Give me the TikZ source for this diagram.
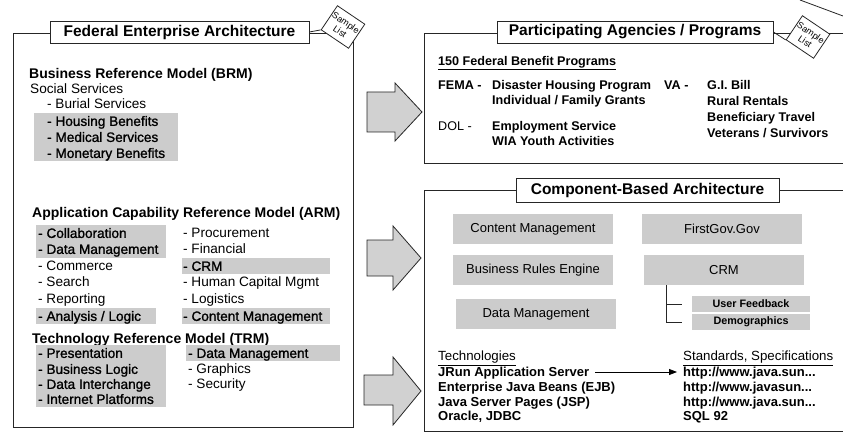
\documentclass[tikz,border=0pt]{standalone}
\usepackage{fontspec}
\setmainfont{Liberation Sans}
\newfontfamily\heavyfont{Liberation Sans}[FakeBold=1.2]
\usetikzlibrary{arrows.meta}
\tikzset{
  frame/.style={draw=black!85, line width=0.8pt},
  hdr/.style={draw=black!85, fill=white, line width=0.8pt, inner sep=0pt, minimum height=22pt, font=\bfseries\fontsize{15.5}{18}\selectfont},
  tagbox/.style={draw=black!85, fill=white, line width=0.8pt, rotate=-34, minimum width=33pt, minimum height=29pt, inner sep=0pt, align=center, font=\fontsize{9}{10.5}\selectfont},
  ttl/.style={anchor=west, inner sep=0pt, text height=10.1pt, text depth=0pt, font=\bfseries\fontsize{14}{16}\selectfont},
  itm/.style={anchor=west, inner sep=0pt, text height=9.8pt, text depth=0pt, font=\fontsize{13.6}{15}\selectfont},
  itmh/.style={itm, font=\heavyfont\fontsize{13.6}{15}\selectfont},
  prog/.style={anchor=west, inner sep=0pt, text height=9.1pt, text depth=0pt, font=\bfseries\fontsize{12.6}{14}\selectfont},
  progr/.style={prog, font=\fontsize{12.6}{14}\selectfont},
  tech/.style={anchor=west, inner sep=0pt, text height=9.5pt, text depth=0pt, font=\fontsize{13.3}{15}\selectfont},
  techb/.style={anchor=west, inner sep=0pt, text height=9.4pt, text depth=0pt, font=\bfseries\fontsize{13}{15}\selectfont},
  comp/.style={fill=black!20, inner sep=0pt, minimum width=160pt, minimum height=30pt, font=\fontsize{13}{15}\selectfont},
  subcomp/.style={fill=black!20, inner sep=0pt, minimum width=118pt, minimum height=16pt, font=\bfseries\fontsize{10.8}{12}\selectfont},
  stip/.style={fill=black!20},
  bigarrow/.style={draw=black!85, fill=black!18, line width=0.8pt, line join=miter},
}
\begin{document}
\begin{tikzpicture}[x=1pt,y=-1pt]
\useasboundingbox (0,0) rectangle (843,433);
\fill[white] (0,0) rectangle (843,433);

% ---------- left box ----------
\draw[frame] (13,33) rectangle (353,427);
\node[hdr, minimum width=259pt] (fea) at (179.5,32) {Federal Enterprise Architecture};
\node[tagbox] (tag1) at (343,27) {Sample\\List};
\draw[frame] (fea.east) -- (tag1.south west);

% BRM
\node[ttl] (brm) at (29,73) {Business Reference Model (BRM)};
\fill[stip] (34,113) rectangle (178,161);
\node[itm] (ss) at (30,89) {Social Services};
\node[itm] (b1) at (47,104) {- Burial Services};
\node[itmh] (b2) at (47,121) {- Housing Benefits};
\node[itmh] (b3) at (47,137) {- Medical Services};
\node[itmh] (b4) at (47,153) {- Monetary Benefits};

% ARM
\node[ttl] (arm) at (32,212) {Application Capability Reference Model (ARM)};
\fill[stip] (36,225) rectangle (166,258);
\fill[stip] (182,258) rectangle (330,274);
\fill[stip] (36,308) rectangle (156,324);
\fill[stip] (182,308) rectangle (330,324);
\node[itmh] (a1) at (38,233) {- Collaboration};
\node[itmh] (a2) at (38,249) {- Data Management};
\node[itm] (a3) at (38,266) {- Commerce};
\node[itm] (a4) at (38,282) {- Search};
\node[itm] (a5) at (38,299) {- Reporting};
\node[itmh] (a6) at (38,316) {- Analysis / Logic};
\node[itm] (c1) at (183,233) {- Procurement};
\node[itm] (c2) at (183,249) {- Financial};
\node[itmh] (c3) at (183,266) {- CRM};
\node[itm] (c4) at (183,282) {- Human Capital Mgmt};
\node[itm] (c5) at (183,299) {- Logistics};
\node[itmh] (c6) at (183,316) {- Content Management};

% TRM
\node[ttl] (trm) at (32,338) {Technology Reference Model (TRM)};
\fill[stip] (36,345) rectangle (166,407);
\fill[stip] (186,345) rectangle (340,361);
\node[itmh] (t1) at (38,353) {- Presentation};
\node[itmh] (t2) at (38,369) {- Business Logic};
\node[itmh] (t3) at (38,384) {- Data Interchange};
\node[itmh] (t4) at (38,399) {- Internet Platforms};
\node[itmh] (u1) at (188,353) {- Data Management};
\node[itm] (u2) at (188,369) {- Graphics};
\node[itm] (u3) at (188,384) {- Security};

% ---------- block arrows ----------
\draw[bigarrow] (367,92) -- (395,92) -- (395,83) -- (422,112) -- (395,141) -- (395,132) -- (367,132) -- cycle;
\draw[bigarrow] (367,240) -- (393,240) -- (393,226) -- (421,258) -- (393,290) -- (393,276) -- (367,276) -- cycle;
\draw[bigarrow] (364,375) -- (393,375) -- (393,357) -- (421,391) -- (393,425) -- (393,405) -- (364,405) -- cycle;

% ---------- top right box ----------
\draw[frame] (424,33) rectangle (850,163);
\node[hdr, minimum width=276pt] (pap) at (635,32) {Participating Agencies / Programs};
\node[tagbox] (tag2) at (808,37) {Sample\\List};
\draw[frame] (pap.east) -- (tag2.south west);
\draw[frame] (800,0) -- (843,16);

\node[prog] (fbp) at (438,61) {\underline{150 Federal Benefit Programs}};
\node[prog] (fema) at (438,85) {FEMA -};
\node[prog] (fema1) at (492,85) {Disaster Housing Program};
\node[prog] (fema2) at (492,100) {Individual / Family Grants};
\node[progr] (dol) at (438,126) {DOL -};
\node[prog] (dol1) at (492,126) {Employment Service};
\node[prog] (dol2) at (492,141) {WIA Youth Activities};
\node[prog] (va) at (664,85) {VA -};
\node[prog] (va1) at (707,85) {G.I. Bill};
\node[prog] (va2) at (707,101) {Rural Rentals};
\node[prog] (va3) at (707,117) {Beneficiary Travel};
\node[prog] (va4) at (707,133) {Veterans / Survivors};

% ---------- bottom right box ----------
\draw[frame] (424,190) rectangle (850,431);
\node[hdr, minimum width=263pt, minimum height=24pt] (cba) at (647.5,190) {Component-Based Architecture};

\node[comp] (cm) at (533,229) {Content Management};
\node[comp] (fg) at (722,229) {FirstGov.Gov};
\node[comp] (bre) at (533,270) {Business Rules Engine};
\node[comp] (crm) at (724,270) {CRM};
\node[comp] (dm) at (536,314) {Data Management};
\node[subcomp] (uf) at (751,304) {User Feedback};
\node[subcomp] (demo) at (751,322) {Demographics};
\draw[frame] ([xshift=23pt]crm.south west) |- ([xshift=-10pt]uf.west);
\draw[frame] ([xshift=23pt]crm.south west) |- ([xshift=-10pt]demo.west);

\node[tech] (tec) at (438,356) {\underline{Technologies}};
\node[techb] (jrun) at (438,372) {JRun Application Server};
\node[techb] (ejb) at (438,387) {Enterprise Java Beans (EJB)};
\node[techb] (jsp) at (438,402) {Java Server Pages (JSP)};
\node[techb] (ora) at (438,416) {Oracle, JDBC};
\node[tech] (std) at (683,356) {\underline{Standards, Specifications}};
\node[techb] (h1) at (683,372) {http://www.java.sun...};
\node[techb] (h2) at (683,387) {http://www.javasun...};
\node[techb] (h3) at (683,402) {http://www.java.sun...};
\node[techb] (sql) at (683,416) {SQL 92};
\draw[line width=0.8pt, -{Triangle[length=8pt,width=6pt]}, shorten <=6pt, shorten >=6pt] (jrun.east) -- (h1.west);
\end{tikzpicture}
\end{document}
